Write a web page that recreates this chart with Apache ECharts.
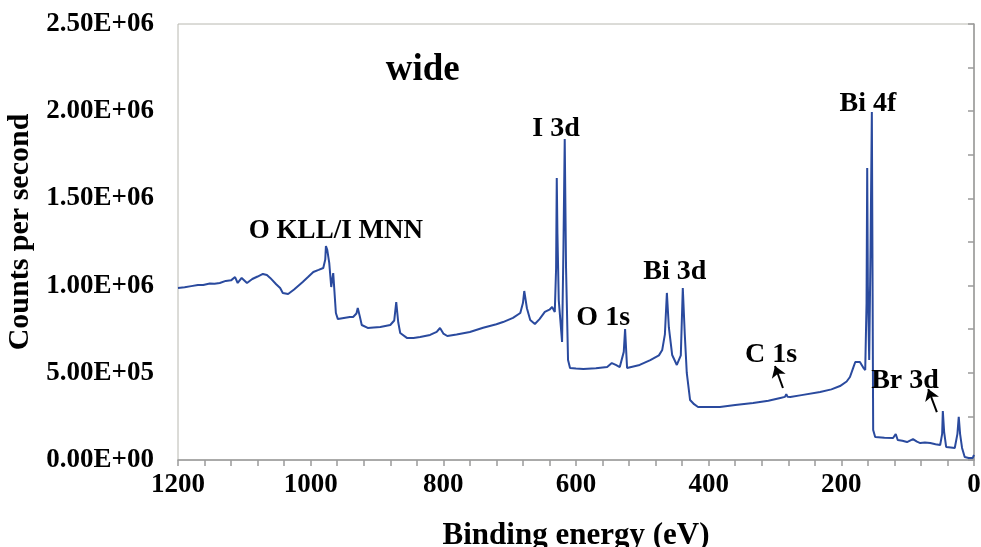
<!DOCTYPE html>
<html>
<head>
<meta charset="utf-8">
<script src="https://cdn.jsdelivr.net/npm/echarts@6/dist/echarts.min.js"></script>
<style>
html,body{margin:0;padding:0;background:#fff;}
#chart{width:981px;height:547px;}
</style>
</head>
<body>
<div id="chart"></div>
<script>
// Binding energy (eV) and counts per second
const energy = [1200,1190,1180,1170,1162,1152,1145,1137,1128,1120,1114,1110,1104,1096,1088,1080,1072,1066,1061,1052,1046,1042,1034,1025,1012,1004,996,988,981,978,977,975,972,969,966,962,959,950,941,936,931,929,926,923,914,905,895,880,874,871,868,865,855,845,835,820,810,805,800,794,780,760,740,720,710,695,684,680,678,674,669,662,655,647,640,636,632,630,629,628,626,621,619,617,615,612,609,600,589,570,553,546,540,534,528,526,524,523,504,488,475,470,466,463,460,455,448,442,439,436,433,428,422,416,400,383,360,333,310,292,285,283,281,277,260,232,215,202,192,187,182,179,176,172,167,164,162,161,160,158,156,154,153,152,149,135,122,118,115,108,101,92,86,81,74,66,58,51,48,47,45,42,35,29,25,23,21,18,14,8,2,0];
const counts = [986000,990000,997000,1003000,1003000,1012000,1010000,1015000,1027000,1030000,1049000,1015000,1044000,1015000,1038000,1052000,1067000,1061000,1044000,1008000,986000,958000,952000,978000,1021000,1049000,1078000,1090000,1101000,1150000,1227000,1205000,1130000,992000,1072000,843000,808000,814000,820000,820000,840000,872000,825000,774000,757000,760000,763000,774000,800000,906000,790000,728000,700000,700000,705000,717000,735000,757000,725000,711000,720000,734000,758000,778000,791000,815000,843000,900000,969000,870000,803000,780000,808000,849000,862000,877000,849000,1100000,1617000,1300000,917000,677000,1200000,1841000,1100000,573000,528000,525000,522000,526000,533000,556000,545000,533000,620000,751000,600000,528000,545000,573000,600000,631000,720000,958000,760000,602000,545000,600000,986000,720000,499000,344000,320000,304000,304000,304000,315000,327000,340000,356000,362000,378000,362000,361000,372000,390000,405000,424000,450000,476000,530000,562000,560000,562000,530000,516000,900000,1674000,1000000,573000,1200000,1995000,1100000,172000,132000,128000,126000,149000,115000,110000,103000,120000,105000,97000,100000,97000,90000,86000,150000,281000,160000,75000,72000,69000,150000,247000,150000,69000,17000,12000,11000,29000];

// Annotations (text, energy, counts)
const annotationText = ['wide','O KLL/I MNN','I 3d','Bi 4f','Bi 3d','O 1s','C 1s','Br 3d'];
const annotationEnergy = [831,962,630,160,451,559,306,104];
const annotationCounts = [2236000,1313000,1898000,2040000,1078000,814000,602000,453000];
const annotationSize = [37,27,28,28,28,28,28,28];

// Arrows: from -> to, in [energy, counts]
const arrowFrom = [[288,413000],[56,275000]];
const arrowTo = [[300,539000],[69,407000]];

const xTicks = {min:0, max:1200, interval:200};
const yTicks = {min:0, max:2500000, interval:500000};

function sci(v){
  if (v === 0) return '0.00E+00';
  const e = Math.floor(Math.log10(Math.abs(v)) + 1e-9);
  const m = v / Math.pow(10, e);
  const es = (e < 0 ? '-' : '+') + String(Math.abs(e)).padStart(2,'0');
  return m.toFixed(2) + 'E' + es;
}

const font = '"Liberation Serif","Times New Roman",serif';
const chart = echarts.init(document.getElementById('chart'), null, {renderer:'canvas'});

const seriesData = energy.map((e,i)=>[e, counts[i]]);

const option = {
  animation:false,
  backgroundColor:'#ffffff',
  grid:{left:178, right:7, top:24, bottom:87, show:true, borderColor:'#b8b8b0', borderWidth:1, containLabel:false, outerBoundsMode:'none'},
  xAxis:{
    type:'value', inverse:true, min:xTicks.min, max:xTicks.max, interval:xTicks.interval,
    name:'Binding energy (eV)', nameLocation:'middle', nameGap:60,
    nameTextStyle:{fontFamily:font, fontWeight:'bold', fontSize:31, color:'#000'},
    axisLine:{show:true, onZero:false, lineStyle:{color:'#9a9a9a', width:1.5}},
    axisTick:{show:true, inside:false, length:6, lineStyle:{color:'#9a9a9a', width:1.5}},
    minorTick:{show:true, splitNumber:5, length:6, lineStyle:{color:'#9a9a9a', width:1.5}},
    splitLine:{show:false},
    axisLabel:{fontFamily:font, fontWeight:'bold', fontSize:27, color:'#000', margin:12, formatter:v=>String(v)}
  },
  yAxis:{
    type:'value', min:yTicks.min, max:yTicks.max, interval:yTicks.interval,
    name:'Counts per second', nameLocation:'middle', nameGap:138,
    nameTextStyle:{fontFamily:font, fontWeight:'bold', fontSize:30, color:'#000', padding:[0,0,0,20]},
    axisLine:{show:true, lineStyle:{color:'#9a9a9a', width:1.5}},
    axisTick:{show:true, inside:false, length:6, lineStyle:{color:'#9a9a9a', width:1.5}},
    minorTick:{show:true, splitNumber:2, length:6, lineStyle:{color:'#9a9a9a', width:1.5}},
    splitLine:{show:false},
    axisLabel:{fontFamily:font, fontWeight:'bold', fontSize:27, color:'#000', margin:24, formatter:sci}
  },
  series:[{
    type:'line', data:seriesData, showSymbol:false, symbol:'none', smooth:false,
    lineStyle:{color:'#2a4a9e', width:2},
    markPoint:{
      symbol:'circle', symbolSize:1, silent:true,
      itemStyle:{color:'rgba(0,0,0,0)'},
      data: annotationText.map((t,i)=>({
        name:t, coord:[annotationEnergy[i], annotationCounts[i]], value:t,
        label:{show:true, position:'inside', formatter:t, fontFamily:font, fontWeight:'bold', fontSize:annotationSize[i], color:'#000'}
      }))
    },
    markLine:{
      silent:true, symbol:['none','arrow'], symbolSize:11,
      label:{show:false},
      lineStyle:{color:'#000', width:2, type:'solid'},
      data: arrowFrom.map((f,i)=>[{coord:f},{coord:arrowTo[i]}])
    }
  }]
};
chart.setOption(option);
</script>
</body>
</html>
